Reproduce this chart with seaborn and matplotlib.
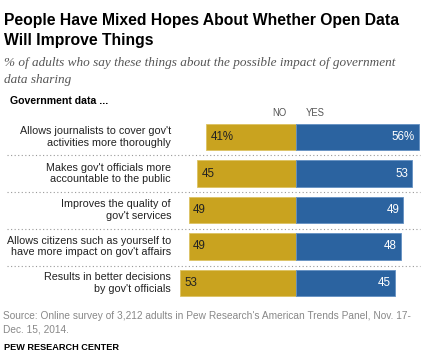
import matplotlib
matplotlib.use("Agg")
import matplotlib.pyplot as plt
import seaborn as sns
import pandas as pd
from matplotlib.lines import Line2D

categories = [
    "Allows journalists to cover gov't\nactivities more thoroughly",
    "Makes gov't officials more\naccountable to the public",
    "Improves the quality of\ngov't services",
    "Allows citizens such as yourself to\nhave more impact on gov't affairs",
    "Results in better decisions\nby gov't officials",
]
no_vals = [41, 45, 49, 49, 53]
yes_vals = [56, 53, 49, 48, 45]
no_labels = ["41%", "45", "49", "49", "53"]
yes_labels = ["56%", "53", "49", "48", "45"]

GOLD = "#C9A31F"
BLUE = "#2B63A0"

sns.set_theme(style="white")
SANS = ["Liberation Sans", "DejaVu Sans"]
SERIF = ["Liberation Serif", "DejaVu Serif"]
plt.rcParams["font.family"] = SANS

W, H = 446, 360
fig = plt.figure(figsize=(W / 100, H / 100), dpi=100)
renderer = fig.canvas.get_renderer()


def fit_size(s, target_px, base=10, **kw):
    t = fig.text(0, 0, s, fontsize=base, **kw)
    w = t.get_window_extent(renderer=renderer).width
    t.remove()
    return base * target_px / w


center_px = 296
ppu = 2.19
xmin, xmax = -60, 60
left_px = center_px + xmin * ppu
width_px = (xmax - xmin) * ppu
top_px, bottom_px = 119, 301
ax = fig.add_axes([left_px / W, 1 - bottom_px / H, width_px / W, (bottom_px - top_px) / H])

df = pd.DataFrame({"cat": categories, "no": [-v for v in no_vals], "yes": yes_vals})
sns.barplot(data=df, x="no", y="cat", color=GOLD, width=0.72, ax=ax, orient="h",
            saturation=1, edgecolor="#DDC262", linewidth=0.6)
sns.barplot(data=df, x="yes", y="cat", color=BLUE, width=0.72, ax=ax, orient="h",
            saturation=1, edgecolor="#6390C2", linewidth=0.6)
ax.set_xlim(xmin, xmax)
ax.set_ylim(4.5, -0.5)
ax.set_axis_off()

val_fs = fit_size("41%", 23)
cat_fs = fit_size("Allows citizens such as yourself to", 163)
for i in range(len(categories)):
    ax.text(-no_vals[i] + 1.9, i, no_labels[i], ha="left", va="center", fontsize=val_fs, color="#222222")
    ax.text(yes_vals[i] - 1.9, i, yes_labels[i], ha="right", va="center", fontsize=val_fs, color="white")
    fig.text(171 / W, 1 - (137.2 + i * 36.4) / H, categories[i], ha="right", va="center",
             fontsize=cat_fs, color="#222222", linespacing=1.2)

for i in range(4):
    y = 1 - (154.5 + i * 37.0) / H
    fig.add_artist(Line2D([7 / W, 420 / W], [y, y], color="#999999", lw=0.8,
                          linestyle=(0, (1, 2.2))))

ny_fs = fit_size("YES", 19)
fig.text(279.5 / W, 1 - 113 / H, "NO", ha="center", va="center", fontsize=ny_fs, color="#555555")
fig.text(315.5 / W, 1 - 113 / H, "YES", ha="center", va="center", fontsize=ny_fs, color="#555555")

title_fs = fit_size("People Have Mixed Hopes About Whether Open Data", 395, fontweight="bold")
fig.text(4 / W, 1 - 20 / H, "People Have Mixed Hopes About Whether Open Data",
         ha="left", va="center", fontsize=title_fs, fontweight="bold", color="black")
fig.text(4 / W, 1 - 41 / H, "Will Improve Things",
         ha="left", va="center", fontsize=title_fs, fontweight="bold", color="black")
sub1 = "% of adults who say these things about the possible impact of government"
sub_fs = fit_size(sub1, 395, style="italic", family=SERIF)
fig.text(4 / W, 1 - 63 / H, sub1,
         ha="left", va="center", fontsize=sub_fs, style="italic", color="#555555", family=SERIF)
fig.text(4 / W, 1 - 80 / H, "data sharing",
         ha="left", va="center", fontsize=sub_fs, style="italic", color="#555555", family=SERIF)
gd_fs = fit_size("Government data ...", 99, fontweight="bold")
fig.text(10 / W, 1 - 101 / H, "Government data ...", ha="left", va="center",
         fontsize=gd_fs, fontweight="bold", color="black")

src1 = "Source: Online survey of 3,212 adults in Pew Research's American Trends Panel, Nov. 17-"
src_fs = fit_size(src1, 405)
fig.text(3 / W, 1 - 316 / H, src1, ha="left", va="center", fontsize=src_fs, color="#888888")
fig.text(3 / W, 1 - 329 / H, "Dec. 15, 2014.", ha="left", va="center", fontsize=src_fs, color="#888888")
pew_fs = fit_size("PEW RESEARCH CENTER", 114, fontweight="bold")
fig.text(4 / W, 1 - 348 / H, "PEW RESEARCH CENTER", ha="left", va="center",
         fontsize=pew_fs, fontweight="bold", color="black")

fig.savefig("out.png", dpi=100, facecolor="white")
